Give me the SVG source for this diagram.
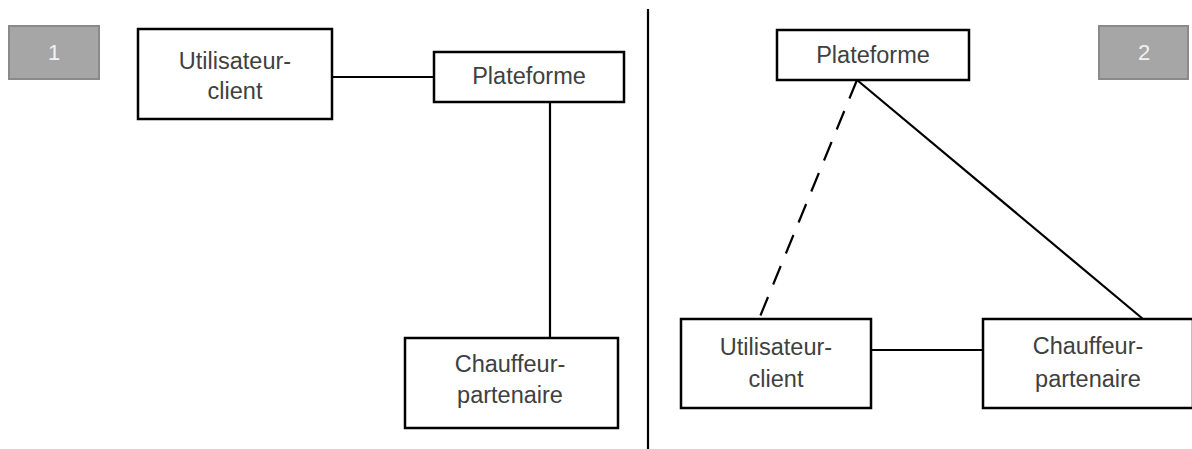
<svg xmlns="http://www.w3.org/2000/svg" width="1192" height="449" viewBox="0 0 1192 449">
<style>
.box{fill:#fff;stroke:#000;stroke-width:2.5}
.badge{fill:#a6a6a6;stroke:#8a8a8a;stroke-width:2}
.t{font-family:"Liberation Sans",Arial,sans-serif;font-size:23.5px;fill:#404040;text-anchor:middle}
.bt{font-family:"Liberation Sans",Arial,sans-serif;font-size:22px;fill:#f2f2f2;text-anchor:middle}
.c{stroke:#000;stroke-width:2.2;fill:none}
</style>
<rect width="1192" height="449" fill="#fff"/>
<g id="connectors">
<line class="c" x1="332" y1="77" x2="434" y2="77"/>
<line class="c" x1="550" y1="102" x2="550" y2="338"/>
<line class="c" x1="648" y1="9" x2="648" y2="449" stroke-width="2.5"/>
<line class="c" x1="857" y1="80" x2="1143" y2="319"/>
<line class="c" x1="857" y1="80" x2="759" y2="319" stroke-dasharray="20 13.5"/>
<line class="c" x1="871" y1="350" x2="983" y2="350"/>
</g>
<g id="badge1"><rect class="badge" x="9" y="26" width="90" height="53"/><text class="bt" x="54" y="60">1</text></g>
<g id="badge2"><rect class="badge" x="1099" y="26" width="89" height="53"/><text class="bt" x="1144" y="60">2</text></g>
<g id="uc1"><rect class="box" x="138" y="29" width="194" height="90"/><text class="t" x="235" y="69">Utilisateur-</text><text class="t" x="235" y="99">client</text></g>
<g id="pf1"><rect class="box" x="434" y="52" width="190" height="50"/><text class="t" x="529" y="84">Plateforme</text></g>
<g id="cp1"><rect class="box" x="405" y="338" width="213" height="90"/><text class="t" x="510" y="372">Chauffeur-</text><text class="t" x="510" y="403">partenaire</text></g>
<g id="pf2"><rect class="box" x="777" y="30" width="192" height="50"/><text class="t" x="873" y="63">Plateforme</text></g>
<g id="uc2"><rect class="box" x="681" y="319" width="190" height="89"/><text class="t" x="776" y="355">Utilisateur-</text><text class="t" x="776" y="387">client</text></g>
<g id="cp2"><rect class="box" x="983" y="319" width="210" height="89"/><text class="t" x="1088" y="354">Chauffeur-</text><text class="t" x="1088" y="387">partenaire</text></g>
</svg>
